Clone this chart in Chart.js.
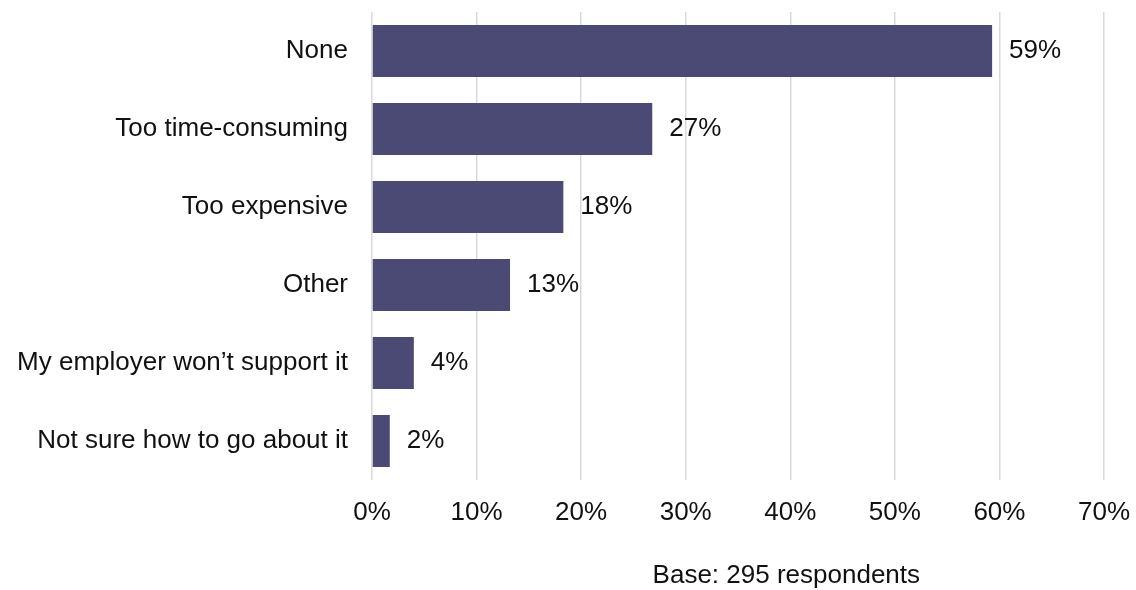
<!DOCTYPE html>
<html>
<head>
<meta charset="utf-8">
<script src="https://cdn.jsdelivr.net/npm/chart.js@4/dist/chart.umd.min.js"></script>
<style>
html,body{margin:0;padding:0;background:#fff;}
#wrap{width:1136px;height:590px;}
</style>
</head>
<body>
<div id="wrap"><canvas id="c" width="1136" height="590"></canvas></div>
<script>
const categories = ["None", "Too time-consuming", "Too expensive", "Other", "My employer won\u2019t support it", "Not sure how to go about it"];
const values = [59.3, 26.8, 18.3, 13.2, 4.0, 1.7];
const valueLabels = ["59%", "27%", "18%", "13%", "4%", "2%"];
const xTicks = [0, 10, 20, 30, 40, 50, 60, 70];
const baseNote = "Base: 295 respondents";

const FONT = '"Liberation Sans", Arial, sans-serif';
const FSIZE = 26;

const valueLabelPlugin = {
  id: 'valueLabels',
  afterDatasetsDraw(chart) {
    const ctx = chart.ctx;
    const meta = chart.getDatasetMeta(0);
    ctx.save();
    ctx.font = FSIZE + 'px ' + FONT;
    ctx.fillStyle = '#111';
    ctx.textAlign = 'left';
    ctx.textBaseline = 'middle';
    meta.data.forEach((bar, i) => {
      ctx.fillText(valueLabels[i], bar.x + 17, bar.y);
    });
    ctx.restore();
  }
};

const notePlugin = {
  id: 'note',
  afterDraw(chart) {
    const ctx = chart.ctx;
    const area = chart.chartArea;
    ctx.save();
    ctx.font = FSIZE + 'px ' + FONT;
    ctx.fillStyle = '#111';
    ctx.textAlign = 'center';
    ctx.textBaseline = 'middle';
    ctx.fillText(baseNote, area.left + (area.right - area.left) * 0.566, area.bottom + 96);
    ctx.restore();
  }
};

new Chart(document.getElementById('c'), {
  type: 'bar',
  data: {
    labels: categories,
    datasets: [{
      data: values,
      backgroundColor: '#4a4a75',
      borderWidth: 0,
      categoryPercentage: 0.667,
      barPercentage: 1.0
    }]
  },
  options: {
    indexAxis: 'y',
    responsive: false,
    animation: false,
    layout: { padding: { top: 12, right: 32, bottom: 62, left: 0 } },
    plugins: {
      legend: { display: false },
      tooltip: { enabled: false },
      title: { display: false }
    },
    scales: {
      x: {
        min: 0,
        max: 70,
        afterBuildTicks(scale) { scale.ticks = xTicks.map(v => ({ value: v })); },
        afterFit(scale) { scale.height = 48; scale.paddingLeft = 0; scale.paddingRight = 0; },
        ticks: {
          padding: 17,
          color: '#111',
          font: { family: FONT, size: FSIZE },
          callback: (v) => v + '%',
          maxRotation: 0
        },
        grid: { color: '#d9d9d9', lineWidth: 1.5, drawTicks: false },
        border: { display: false }
      },
      y: {
        afterFit(scale) { scale.width = 372; scale.paddingTop = 0; scale.paddingBottom = 0; },
        ticks: {
          padding: 24,
          color: '#111',
          font: { family: FONT, size: FSIZE }
        },
        grid: { display: false, drawTicks: false },
        border: { display: false }
      }
    }
  },
  plugins: [valueLabelPlugin, notePlugin]
});
</script>
</body>
</html>
